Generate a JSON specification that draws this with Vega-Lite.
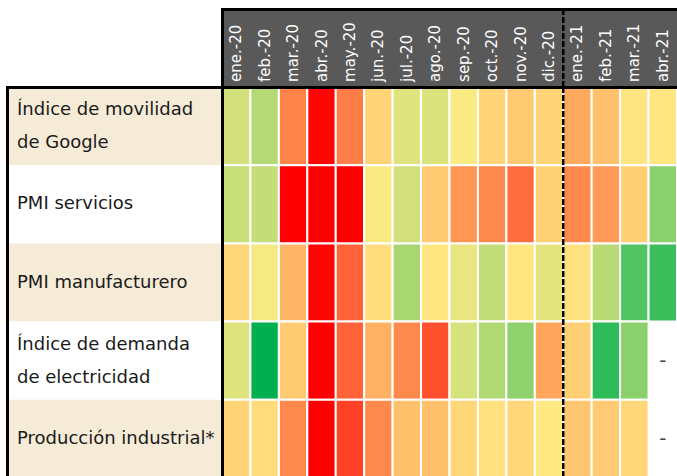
{
  "$schema": "https://vega.github.io/schema/vega-lite/v6.json",
  "padding": {"left": 7, "top": 7, "right": 0, "bottom": 0},
  "background": "white",
  "spacing": 0,
  "bounds": "flush",
  "columns": 2,
  "config": {
    "view": {"stroke": null},
    "axis": {"domainColor": "#000000", "domainWidth": 3, "domainCap": "square", "ticks": false, "labels": false, "title": null, "grid": false, "minExtent": 0, "maxExtent": 0},
    "text": {"font": "DejaVu Sans"}
  },
  "datasets": {
    "meses": [
      {"mes": "ene.-20"}, {"mes": "feb.-20"}, {"mes": "mar.-20"}, {"mes": "abr.-20"},
      {"mes": "may.-20"}, {"mes": "jun.-20"}, {"mes": "jul.-20"}, {"mes": "ago.-20"},
      {"mes": "sep.-20"}, {"mes": "oct.-20"}, {"mes": "nov.-20"}, {"mes": "dic.-20"},
      {"mes": "ene.-21"}, {"mes": "feb.-21"}, {"mes": "mar.-21"}, {"mes": "abr.-21"}
    ],
    "filas": [
      {"indicador": "Índice de movilidad de Google", "etiqueta": "Índice de movilidad\nde Google"},
      {"indicador": "PMI servicios", "etiqueta": "PMI servicios"},
      {"indicador": "PMI manufacturero", "etiqueta": "PMI manufacturero"},
      {"indicador": "Índice de demanda de electricidad", "etiqueta": "Índice de demanda\nde electricidad"},
      {"indicador": "Producción industrial*", "etiqueta": "Producción industrial*"}
    ],
    "celdas": [
      {"indicador": "Índice de movilidad de Google", "mes": "ene.-20", "valor": 59},
      {"indicador": "Índice de movilidad de Google", "mes": "feb.-20", "valor": 64.5},
      {"indicador": "Índice de movilidad de Google", "mes": "mar.-20", "valor": 28},
      {"indicador": "Índice de movilidad de Google", "mes": "abr.-20", "valor": 1},
      {"indicador": "Índice de movilidad de Google", "mes": "may.-20", "valor": 26.6},
      {"indicador": "Índice de movilidad de Google", "mes": "jun.-20", "valor": 45},
      {"indicador": "Índice de movilidad de Google", "mes": "jul.-20", "valor": 56},
      {"indicador": "Índice de movilidad de Google", "mes": "ago.-20", "valor": 57},
      {"indicador": "Índice de movilidad de Google", "mes": "sep.-20", "valor": 51},
      {"indicador": "Índice de movilidad de Google", "mes": "oct.-20", "valor": 45},
      {"indicador": "Índice de movilidad de Google", "mes": "nov.-20", "valor": 43},
      {"indicador": "Índice de movilidad de Google", "mes": "dic.-20", "valor": 45},
      {"indicador": "Índice de movilidad de Google", "mes": "ene.-21", "valor": 36},
      {"indicador": "Índice de movilidad de Google", "mes": "feb.-21", "valor": 41},
      {"indicador": "Índice de movilidad de Google", "mes": "mar.-21", "valor": 48.7},
      {"indicador": "Índice de movilidad de Google", "mes": "abr.-21", "valor": 49},
      {"indicador": "PMI servicios", "mes": "ene.-20", "valor": 61},
      {"indicador": "PMI servicios", "mes": "feb.-20", "valor": 61.5},
      {"indicador": "PMI servicios", "mes": "mar.-20", "valor": 0},
      {"indicador": "PMI servicios", "mes": "abr.-20", "valor": 0},
      {"indicador": "PMI servicios", "mes": "may.-20", "valor": 0},
      {"indicador": "PMI servicios", "mes": "jun.-20", "valor": 51},
      {"indicador": "PMI servicios", "mes": "jul.-20", "valor": 59},
      {"indicador": "PMI servicios", "mes": "ago.-20", "valor": 43},
      {"indicador": "PMI servicios", "mes": "sep.-20", "valor": 32},
      {"indicador": "PMI servicios", "mes": "oct.-20", "valor": 29},
      {"indicador": "PMI servicios", "mes": "nov.-20", "valor": 23},
      {"indicador": "PMI servicios", "mes": "dic.-20", "valor": 44.5},
      {"indicador": "PMI servicios", "mes": "ene.-21", "valor": 29},
      {"indicador": "PMI servicios", "mes": "feb.-21", "valor": 33},
      {"indicador": "PMI servicios", "mes": "mar.-21", "valor": 44},
      {"indicador": "PMI servicios", "mes": "abr.-21", "valor": 73},
      {"indicador": "PMI manufacturero", "mes": "ene.-20", "valor": 45.5},
      {"indicador": "PMI manufacturero", "mes": "feb.-20", "valor": 52},
      {"indicador": "PMI manufacturero", "mes": "mar.-20", "valor": 38.5},
      {"indicador": "PMI manufacturero", "mes": "abr.-20", "valor": 1},
      {"indicador": "PMI manufacturero", "mes": "may.-20", "valor": 21},
      {"indicador": "PMI manufacturero", "mes": "jun.-20", "valor": 47},
      {"indicador": "PMI manufacturero", "mes": "jul.-20", "valor": 67},
      {"indicador": "PMI manufacturero", "mes": "ago.-20", "valor": 49},
      {"indicador": "PMI manufacturero", "mes": "sep.-20", "valor": 54.5},
      {"indicador": "PMI manufacturero", "mes": "oct.-20", "valor": 62},
      {"indicador": "PMI manufacturero", "mes": "nov.-20", "valor": 49},
      {"indicador": "PMI manufacturero", "mes": "dic.-20", "valor": 55.5},
      {"indicador": "PMI manufacturero", "mes": "ene.-21", "valor": 48},
      {"indicador": "PMI manufacturero", "mes": "feb.-21", "valor": 64},
      {"indicador": "PMI manufacturero", "mes": "mar.-21", "valor": 84},
      {"indicador": "PMI manufacturero", "mes": "abr.-21", "valor": 88},
      {"indicador": "Índice de demanda de electricidad", "mes": "ene.-20", "valor": 56.5},
      {"indicador": "Índice de demanda de electricidad", "mes": "feb.-20", "valor": 100},
      {"indicador": "Índice de demanda de electricidad", "mes": "mar.-20", "valor": 43},
      {"indicador": "Índice de demanda de electricidad", "mes": "abr.-20", "valor": 0},
      {"indicador": "Índice de demanda de electricidad", "mes": "may.-20", "valor": 21},
      {"indicador": "Índice de demanda de electricidad", "mes": "jun.-20", "valor": 37.5},
      {"indicador": "Índice de demanda de electricidad", "mes": "jul.-20", "valor": 29},
      {"indicador": "Índice de demanda de electricidad", "mes": "ago.-20", "valor": 17},
      {"indicador": "Índice de demanda de electricidad", "mes": "sep.-20", "valor": 58},
      {"indicador": "Índice de demanda de electricidad", "mes": "oct.-20", "valor": 65.5},
      {"indicador": "Índice de demanda de electricidad", "mes": "nov.-20", "valor": 72},
      {"indicador": "Índice de demanda de electricidad", "mes": "dic.-20", "valor": 35},
      {"indicador": "Índice de demanda de electricidad", "mes": "ene.-21", "valor": 44},
      {"indicador": "Índice de demanda de electricidad", "mes": "feb.-21", "valor": 91},
      {"indicador": "Índice de demanda de electricidad", "mes": "mar.-21", "valor": 73},
      {"indicador": "Índice de demanda de electricidad", "mes": "abr.-21", "valor": null},
      {"indicador": "Producción industrial*", "mes": "ene.-20", "valor": 45},
      {"indicador": "Producción industrial*", "mes": "feb.-20", "valor": 46.5},
      {"indicador": "Producción industrial*", "mes": "mar.-20", "valor": 29},
      {"indicador": "Producción industrial*", "mes": "abr.-20", "valor": 0},
      {"indicador": "Producción industrial*", "mes": "may.-20", "valor": 14},
      {"indicador": "Producción industrial*", "mes": "jun.-20", "valor": 29},
      {"indicador": "Producción industrial*", "mes": "jul.-20", "valor": 41},
      {"indicador": "Producción industrial*", "mes": "ago.-20", "valor": 41},
      {"indicador": "Producción industrial*", "mes": "sep.-20", "valor": 45.5},
      {"indicador": "Producción industrial*", "mes": "oct.-20", "valor": 48},
      {"indicador": "Producción industrial*", "mes": "nov.-20", "valor": 45.5},
      {"indicador": "Producción industrial*", "mes": "dic.-20", "valor": 49.5},
      {"indicador": "Producción industrial*", "mes": "ene.-21", "valor": 42},
      {"indicador": "Producción industrial*", "mes": "feb.-21", "valor": 43},
      {"indicador": "Producción industrial*", "mes": "mar.-21", "valor": 45.5},
      {"indicador": "Producción industrial*", "mes": "abr.-21", "valor": null}
    ]
  },
  "concat": [
    {
      "width": 215,
      "height": 78,
      "data": {"values": [{}]},
      "mark": {"type": "text"},
      "encoding": {"text": {"value": ""}}
    },
    {
      "width": 455,
      "height": 78,
      "view": {"fill": "#595959"},
      "data": {"name": "meses"},
      "layer": [
        {
          "mark": {"type": "text", "angle": 270, "align": "left", "baseline": "middle", "color": "#FFFFFF", "fontSize": 15},
          "encoding": {
            "x": {"field": "mes", "type": "nominal", "scale": {"type": "band", "domain": ["ene.-20","feb.-20","mar.-20","abr.-20","may.-20","jun.-20","jul.-20","ago.-20","sep.-20","oct.-20","nov.-20","dic.-20","ene.-21","feb.-21","mar.-21","abr.-21"], "paddingInner": 0, "paddingOuter": 0}, "axis": {"orient": "top", "zindex": 1}},
            "y": {"datum": "h", "type": "nominal", "bandPosition": 0.935, "scale": {"type": "band", "paddingInner": 0, "paddingOuter": 0}, "axis": {"orient": "left", "zindex": 1}},
            "text": {"field": "mes"}
          }
        },
        {
          "data": {"values": [{}]},
          "mark": {"type": "rule", "strokeDash": [6, 2], "strokeWidth": 2.5, "color": "#000000"},
          "encoding": {"x": {"datum": "ene.-21", "type": "nominal", "bandPosition": 0}}
        }
      ]
    },
    {
      "width": 215,
      "height": 391,
      "data": {"name": "filas"},
      "layer": [
        {
          "mark": {"type": "rect"},
          "encoding": {
            "x": {"datum": "c", "type": "nominal", "scale": {"type": "band", "paddingInner": 0, "paddingOuter": 0}, "axis": {"orient": "top", "zindex": 1}},
            "y": {"field": "indicador", "type": "nominal", "scale": {"type": "band", "domain": ["Índice de movilidad de Google", "PMI servicios", "PMI manufacturero", "Índice de demanda de electricidad", "Producción industrial*"], "paddingInner": 0, "paddingOuter": 0}, "axis": {"orient": "left", "zindex": 1}},
            "fill": {"condition": {"test": "indexof(['Índice de movilidad de Google', 'PMI manufacturero', 'Producción industrial*'], datum.indicador) >= 0", "value": "#F6EBD7"}, "value": "#FFFFFF"}
          }
        },
        {
          "transform": [{"filter": "indexof(datum.etiqueta, '\\n') < 0"}],
          "mark": {"type": "text", "align": "left", "baseline": "middle", "dx": 10, "fontSize": 18, "color": "#1A1A1A"},
          "encoding": {
            "x": {"datum": "c", "type": "nominal", "bandPosition": 0},
            "y": {"field": "indicador", "type": "nominal"},
            "text": {"field": "etiqueta"}
          }
        },
        {
          "transform": [{"filter": "indexof(datum.etiqueta, '\\n') >= 0"}],
          "mark": {"type": "text", "align": "left", "baseline": "middle", "dx": 10, "dy": -16, "fontSize": 18, "lineHeight": 33, "lineBreak": "\n", "color": "#1A1A1A"},
          "encoding": {
            "x": {"datum": "c", "type": "nominal", "bandPosition": 0},
            "y": {"field": "indicador", "type": "nominal"},
            "text": {"field": "etiqueta"}
          }
        }
      ]
    },
    {
      "width": 455,
      "height": 391,
      "data": {"name": "celdas"},
      "layer": [
        {
          "transform": [{"filter": "isValid(datum.valor)"}],
          "mark": {"type": "rect", "stroke": "#FFFFFF", "strokeWidth": 2},
          "encoding": {
            "x": {"field": "mes", "type": "nominal", "scale": {"type": "band", "domain": ["ene.-20","feb.-20","mar.-20","abr.-20","may.-20","jun.-20","jul.-20","ago.-20","sep.-20","oct.-20","nov.-20","dic.-20","ene.-21","feb.-21","mar.-21","abr.-21"], "paddingInner": 0, "paddingOuter": 0}, "axis": {"orient": "top", "zindex": 1}},
            "y": {"field": "indicador", "type": "nominal", "scale": {"type": "band", "domain": ["Índice de movilidad de Google", "PMI servicios", "PMI manufacturero", "Índice de demanda de electricidad", "Producción industrial*"], "paddingInner": 0, "paddingOuter": 0}, "axis": {"orient": "left", "zindex": 1}},
            "color": {"field": "valor", "type": "quantitative", "scale": {"domain": [0, 50, 100], "range": ["#FF0000", "#FFEB84", "#00B050"], "interpolate": "rgb"}, "legend": null}
          }
        },
        {
          "transform": [{"filter": "!isValid(datum.valor)"}],
          "mark": {"type": "text", "fontSize": 20, "color": "#444444"},
          "encoding": {
            "x": {"field": "mes", "type": "nominal"},
            "y": {"field": "indicador", "type": "nominal"},
            "text": {"value": "-"}
          }
        },
        {
          "data": {"values": [{}]},
          "mark": {"type": "rule", "strokeDash": [6, 2], "strokeWidth": 2.5, "color": "#000000"},
          "encoding": {"x": {"datum": "ene.-21", "type": "nominal", "bandPosition": 0}}
        }
      ]
    }
  ]
}
